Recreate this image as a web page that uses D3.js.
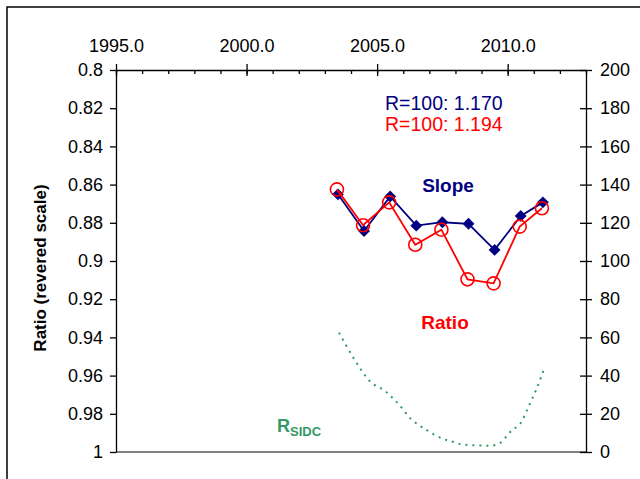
<!DOCTYPE html>
<html>
<head>
<meta charset="utf-8">
<script src="https://cdn.jsdelivr.net/npm/d3@7"></script>
<style>
  body { margin: 0; background: #fff; }
  svg text { font-family: Arial, "Liberation Sans", sans-serif; }
</style>
</head>
<body>
<div id="chart"></div>
<script>
// yearly points (Slope / Ratio), left axis, reversed
var pointYears = [2003.5, 2004.5, 2005.5, 2006.5, 2007.5, 2008.5, 2009.5, 2010.5, 2011.35];
var slopeValues = [0.8651, 0.8843, 0.8662, 0.8815, 0.8797, 0.8805, 0.8942, 0.8764, 0.8693];
var ratioValues = [0.8625, 0.8813, 0.8693, 0.8915, 0.8836, 0.9096, 0.9117, 0.8820, 0.8724];

// smoothed sunspot number, right axis
var sidcYears = [2003.54, 2004.09, 2004.69, 2005.33, 2005.82, 2006.30, 2006.90, 2007.54, 2007.90, 2008.31, 2009.33, 2009.69, 2010.17, 2010.48, 2010.80, 2011.09, 2011.37];
var sidcValues = [62.5, 49.4, 37.5, 31.6, 25.1, 17.3, 11.5, 6.8, 5.4, 3.8, 3.3, 4.6, 11.5, 14.8, 23.7, 32.5, 42.6];

var xTicks = [1995, 2000, 2005, 2010];
var xMinorTicks = d3.range(1995, 2014);
var leftTicks = [0.8, 0.82, 0.84, 0.86, 0.88, 0.9, 0.92, 0.94, 0.96, 0.98, 1];
var rightTicks = [0, 20, 40, 60, 80, 100, 120, 140, 160, 180, 200];

var margin = { top: 70, left: 116, right: 54, bottom: 27 },
    width = 640 - margin.left - margin.right,
    height = 479 - margin.top - margin.bottom;

var root = d3.select("#chart").append("svg")
    .attr("width", 640)
    .attr("height", 479);

// outer frame
root.append("rect")
    .attr("x", 7).attr("y", 7)
    .attr("width", 660).attr("height", 500)
    .attr("fill", "none")
    .attr("stroke", "black")
    .attr("stroke-width", 1.5);

var svg = root.append("g")
    .attr("transform", "translate(" + margin.left + "," + margin.top + ")");

var x = d3.scaleLinear().domain([1995, 2013]).range([0, width]);
var yLeft = d3.scaleLinear().domain([0.8, 1]).range([0, height]);
var yRight = d3.scaleLinear().domain([0, 200]).range([height, 0]);

// bottom border of plot area
svg.append("line")
    .attr("x1", 0).attr("x2", width)
    .attr("y1", height).attr("y2", height)
    .attr("stroke", "#808080")
    .attr("stroke-width", 2);

// top axis, minor ticks inside
svg.append("g")
    .attr("class", "axis x-minor")
    .call(d3.axisTop(x).tickValues(xMinorTicks).tickSize(-4).tickSizeOuter(0).tickFormat(""))
    .call(function(g) { g.select(".domain").remove(); });

var xAxis = svg.append("g")
    .attr("class", "axis x-axis")
    .call(d3.axisTop(x).tickValues(xTicks).tickSize(6).tickSizeOuter(0).tickFormat(d3.format(".1f")));
xAxis.selectAll(".tick line").attr("y2", -6).attr("y1", 6);
xAxis.selectAll(".tick text").attr("y", -18);

var leftAxis = svg.append("g")
    .attr("class", "axis y-left")
    .call(d3.axisLeft(yLeft).tickValues(leftTicks).tickSize(6).tickSizeOuter(0).tickFormat(d3.format("~g")));
leftAxis.selectAll(".tick text").attr("x", -13);

var rightAxis = svg.append("g")
    .attr("class", "axis y-right")
    .attr("transform", "translate(" + width + ",0)")
    .call(d3.axisRight(yRight).tickValues(rightTicks).tickSize(6).tickSizeOuter(0));
rightAxis.selectAll(".tick line").attr("x1", -6);
rightAxis.selectAll(".tick text").attr("x", 14);

svg.selectAll(".axis text")
    .attr("font-size", 18)
    .attr("fill", "black")
    .style("font-family", "Arial, 'Liberation Sans', sans-serif");
svg.selectAll(".axis line, .axis .domain")
    .attr("stroke", "black")
    .attr("stroke-width", 1.3);

// y axis title
root.append("text")
    .attr("transform", "translate(46,268) rotate(-90)")
    .attr("text-anchor", "middle")
    .attr("font-size", 17)
    .attr("font-weight", "bold")
    .text("Ratio (revered scale)");

// SIDC sunspot number
var sidcLine = d3.line()
    .x(function(d, i) { return x(sidcYears[i]); })
    .y(function(d) { return yRight(d); })
    .curve(d3.curveMonotoneX);

svg.append("path")
    .datum(sidcValues)
    .attr("d", sidcLine)
    .attr("fill", "none")
    .attr("stroke", "#2e9960")
    .attr("stroke-width", 2)
    .style("stroke-dasharray", "2,5");

// Slope
var slopeLine = d3.line()
    .x(function(d, i) { return x(pointYears[i]); })
    .y(function(d) { return yLeft(d); });

svg.append("path")
    .datum(slopeValues)
    .attr("d", slopeLine)
    .attr("fill", "none")
    .attr("stroke", "#000080")
    .attr("stroke-width", 1.8);

svg.selectAll(".slope-dot")
    .data(slopeValues)
    .enter().append("path")
    .attr("class", "slope-dot")
    .attr("d", d3.symbol().type(d3.symbolDiamond2).size(90))
    .attr("transform", function(d, i) { return "translate(" + x(pointYears[i]) + "," + yLeft(d) + ")"; })
    .attr("fill", "#000080");

// Ratio
svg.append("path")
    .datum(ratioValues)
    .attr("d", slopeLine)
    .attr("transform", "translate(-1,0)")
    .attr("fill", "none")
    .attr("stroke", "#ff0000")
    .attr("stroke-width", 1.8);

svg.selectAll(".ratio-dot")
    .data(ratioValues)
    .enter().append("circle")
    .attr("class", "ratio-dot")
    .attr("cx", function(d, i) { return x(pointYears[i]) - 1; })
    .attr("cy", function(d) { return yLeft(d); })
    .attr("r", 6.5)
    .attr("fill", "none")
    .attr("stroke", "#ff0000")
    .attr("stroke-width", 1.6);

// annotations
root.append("text")
    .attr("x", 385).attr("y", 110)
    .attr("font-size", 19.5)
    .attr("fill", "#000080")
    .text("R=100: 1.170");
root.append("text")
    .attr("x", 385).attr("y", 131)
    .attr("font-size", 19.5)
    .attr("fill", "#ff0000")
    .text("R=100: 1.194");
root.append("text")
    .attr("x", 448).attr("y", 192)
    .attr("text-anchor", "middle")
    .attr("font-size", 19)
    .attr("font-weight", "bold")
    .attr("fill", "#000080")
    .text("Slope");
root.append("text")
    .attr("x", 445).attr("y", 329)
    .attr("text-anchor", "middle")
    .attr("font-size", 19)
    .attr("font-weight", "bold")
    .attr("fill", "#ff0000")
    .text("Ratio");

var sidcLabel = root.append("text")
    .attr("x", 277).attr("y", 432)
    .attr("font-weight", "bold")
    .attr("fill", "#339966");
sidcLabel.append("tspan").attr("font-size", 18).text("R");
sidcLabel.append("tspan").attr("font-size", 13).attr("dy", 4).text("SIDC");
</script>
</body>
</html>
